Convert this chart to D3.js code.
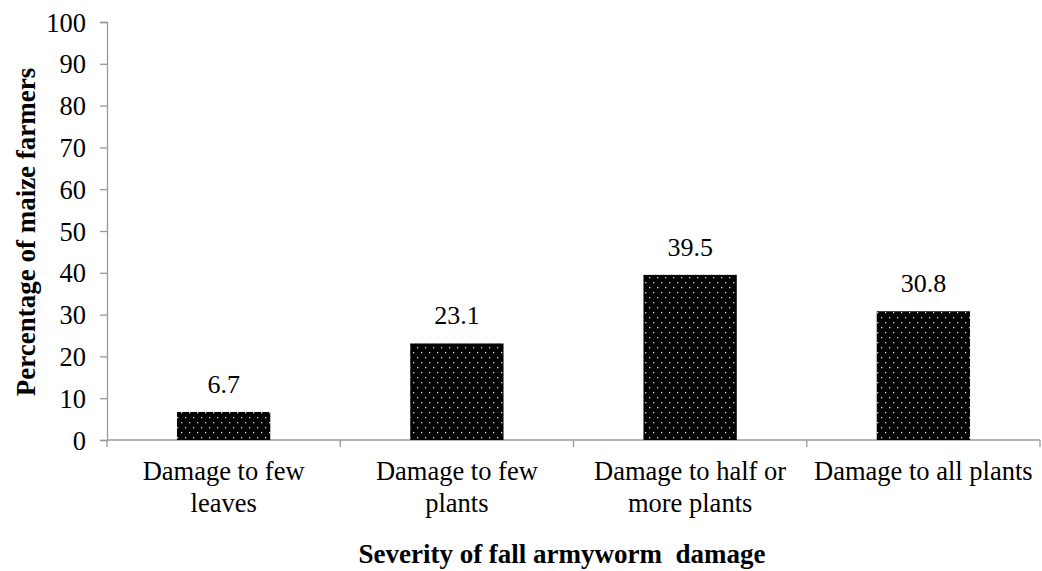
<!DOCTYPE html>
<html><head><meta charset="utf-8">
<script src="https://cdn.jsdelivr.net/npm/d3@7"></script>
</head><body style="margin:0"><svg id="c" width="1042" height="571" font-family="Times New Roman, Liberation Serif, serif"></svg>
<script>
const categories = [["Damage to few","leaves"],["Damage to few","plants"],["Damage to half or","more plants"],["Damage to all plants"]];
const values = [6.7, 23.1, 39.5, 30.8];
const yTicks = [0,10,20,30,40,50,60,70,80,90,100];
const yTitle = "Percentage of maize farmers";
const xTitle = "Severity of fall armyworm  damage";

const svg = d3.select("#c");
const L = 107, R = 1040, T = 22, B = 440;
const x = d3.scaleBand().domain(d3.range(values.length)).range([L, R]).paddingInner(0.6).paddingOuter(0.3);
const xb = d3.scaleBand().domain(d3.range(values.length)).range([L, R]);
const y = d3.scaleLinear().domain([0,100]).range([B, T]);

const defs = svg.append("defs");
const p = defs.append("pattern").attr("id","dots").attr("patternUnits","userSpaceOnUse").attr("width",8).attr("height",10).attr("x",L).attr("y",0);
p.append("rect").attr("width",8).attr("height",10).attr("fill","#000");
p.append("rect").attr("x",2).attr("y",2).attr("width",1.3).attr("height",1.3).attr("fill","#ddd");
p.append("rect").attr("x",6).attr("y",7).attr("width",1.3).attr("height",1.3).attr("fill","#ddd");

// y axis
const ya = svg.append("g").attr("transform",`translate(${L},0)`).call(d3.axisLeft(y).tickValues(yTicks).tickSize(7).tickPadding(14));
ya.attr("font-family", "Times New Roman").attr("font-size", 26.5);
ya.select(".domain").attr("stroke","#999").attr("stroke-width",1.3);
ya.selectAll(".tick line").attr("stroke","#999").attr("stroke-width",1.3);
ya.selectAll(".tick text").attr("fill","#000").attr("dy","0.34em").attr("font-family","Times New Roman").attr("font-size",26.5);

// x axis
const xa = svg.append("g").attr("transform",`translate(0,${B})`);
xa.append("line").attr("x1",L).attr("x2",R).attr("stroke","#999").attr("stroke-width",1.3);
const seps = [L].concat(xb.domain().map(d => xb(d) + xb.bandwidth()));
xa.selectAll("line.sep").data(seps).enter().append("line").attr("class","sep")
  .attr("x1",d=>d).attr("x2",d=>d).attr("y1",0).attr("y2",7).attr("stroke","#999").attr("stroke-width",1.3);

// bars
svg.selectAll("rect.bar").data(values).enter().append("rect").attr("class","bar")
  .attr("x",(d,i)=>x(i)).attr("width",x.bandwidth())
  .attr("y",d=>y(d)).attr("height",d=>B-y(d)).attr("fill","url(#dots)");

// value labels
svg.selectAll("text.val").data(values).enter().append("text").attr("class","val")
  .attr("x",(d,i)=>x(i)+x.bandwidth()/2).attr("y",d=>y(d)-19)
  .attr("text-anchor","middle").attr("font-family","Times New Roman").attr("font-size",26).text(d=>d.toFixed(1));

// category labels
categories.forEach((lines,i)=>{
  const t = svg.append("text").attr("text-anchor","middle").attr("font-family","Times New Roman").attr("font-size",26.5)
    .attr("x", xb(i)+xb.bandwidth()/2).attr("y", 480);
  lines.forEach((s,j)=>t.append("tspan").attr("x", xb(i)+xb.bandwidth()/2).attr("dy", j===0?0:32).attr("font-family","Times New Roman").text(s));
});

// titles
svg.append("text").attr("text-anchor","middle").attr("x",562).attr("y",563)
  .attr("font-family","Times New Roman").attr("font-size",27).attr("font-weight","bold").style("white-space","pre").text(xTitle);
svg.append("text").attr("text-anchor","middle").attr("transform","translate(35,232) rotate(-90)")
  .attr("font-family","Times New Roman").attr("font-size",27).attr("font-weight","bold").text(yTitle);
</script></body></html>
